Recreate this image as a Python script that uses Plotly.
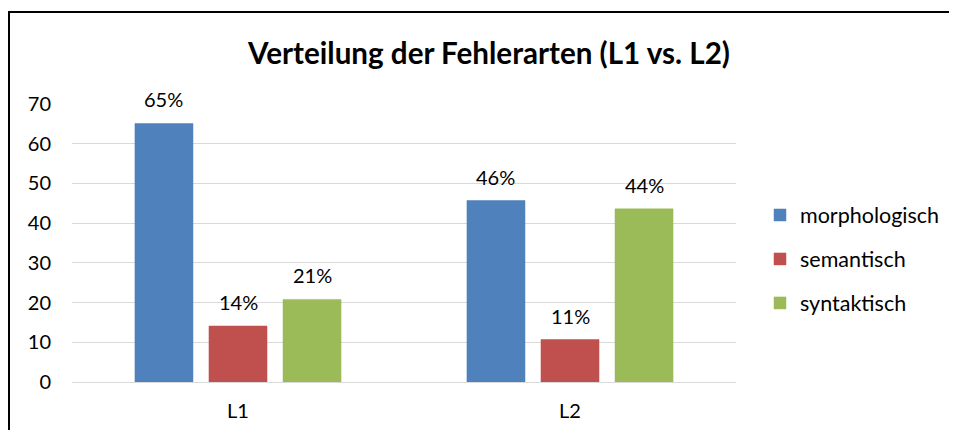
import plotly.graph_objects as go

# ---- data ----
categories = ["L1", "L2"]
series_names = ["morphologisch", "semantisch", "syntaktisch"]
morphologisch = [65.1, 45.7]
semantisch = [14.1, 10.7]
syntaktisch = [20.8, 43.6]
labels_morphologisch = ["65%", "46%"]
labels_semantisch = ["14%", "11%"]
labels_syntaktisch = ["21%", "44%"]
y_ticks = [0, 10, 20, 30, 40, 50, 60, 70]

colors = ["#4F81BD", "#C0504D", "#9BBB59"]
values = [morphologisch, semantisch, syntaktisch]
labels = [labels_morphologisch, labels_semantisch, labels_syntaktisch]

FONT = "Lato, Carlito, Calibri, sans-serif"
# page body has an 8px default margin; size the figure to fit the window
OFF = 8
W, H = 957 - 2 * OFF, 438 - 2 * OFF
ML, MT = 72 - OFF, 104 - OFF
PLOT_R, PLOT_B = 736 - OFF, 382 - OFF
MR, MB = W - PLOT_R, H - PLOT_B
PW = W - ML - MR
PH = H - MT - MB

fig = go.Figure()
for i, (name, vals, col) in enumerate(zip(series_names, values, colors)):
    fig.add_trace(go.Bar(
        x=categories, y=vals, name=name,
        marker=dict(color=col, line=dict(color=col, width=0.5)),
        legendgroup=name,
        hoverinfo="skip",
    ))

# data labels above bars
slot = PW / 2 * (1 - 0.331) / 3
annotations = []
for i, (vals, labs) in enumerate(zip(values, labels)):
    for j, cat in enumerate(categories):
        annotations.append(dict(
            x=cat, y=vals[j], xref="x", yref="y",
            text=labs[j], showarrow=False,
            xshift=(i - 1) * slot, yshift=24,
            yanchor="middle", xanchor="center",
            font=dict(family=FONT, size=20, color="#000000"),
        ))

def px_x(px):
    return (px - ML) / PW

def px_y(py):
    return (H - MB - py) / PH

fig.update_layout(
    width=W, height=H,
    margin=dict(l=ML, r=MR, t=MT, b=MB, autoexpand=False),
    paper_bgcolor="white", plot_bgcolor="white",
    barmode="group", bargap=0.331, bargroupgap=0.216,
    font=dict(family=FONT, size=20, color="#000000"),
    title=dict(
        text="<b>Verteilung der Fehlerarten (L1 vs. L2)</b>",
        x=(489 - OFF) / W, xanchor="center", xref="container",
        y=1 - (54 - OFF) / H, yanchor="middle", yref="container",
        font=dict(family=FONT, size=29.6, color="#000000"),
    ),
    xaxis=dict(
        showgrid=False, showline=False, zeroline=False, automargin=False,
        tickfont=dict(family=FONT, size=20, color="#000000"),
        ticklabelstandoff=15,
    ),
    yaxis=dict(
        range=[0, 70], tickvals=y_ticks, showgrid=True, automargin=False,
        gridcolor="#D9D9D9", gridwidth=1.3,
        zeroline=True, zerolinecolor="#D9D9D9", zerolinewidth=1.3,
        showline=False,
        tickfont=dict(family=FONT, size=20, color="#000000"),
        ticklabelstandoff=20,
    ),
    legend=dict(
        x=px_x(780 - 20 - OFF), xanchor="left",
        y=px_y(259 - OFF), yanchor="middle",
        font=dict(family=FONT, size=21.5, color="#000000"),
        tracegroupgap=13, bgcolor="rgba(0,0,0,0)",
    ),
    annotations=annotations,
    shapes=[
        dict(type="line", xref="paper", yref="paper",
             x0=px_x(1), x1=px_x(W + 20), y0=px_y(12 - OFF), y1=px_y(12 - OFF),
             line=dict(color="#000000", width=2), layer="above"),
        dict(type="line", xref="paper", yref="paper",
             x0=px_x(1), x1=px_x(1), y0=px_y(12 - OFF - 1), y1=px_y(H + 20),
             line=dict(color="#000000", width=2), layer="above"),
    ],
)

fig.write_html("out.html", config={"displayModeBar": False})
